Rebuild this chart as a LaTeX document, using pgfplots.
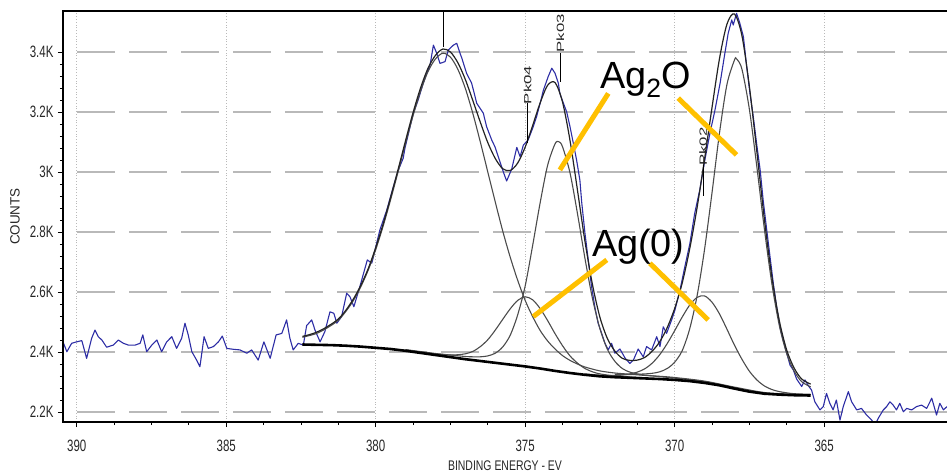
\documentclass[border=0pt]{standalone}
\usepackage{fontspec}
\setmainfont{Liberation Sans}
\newfontfamily\tickfont{Liberation Sans}[FakeStretch=0.7]
\newfontfamily\xlabfont{Liberation Sans}[FakeStretch=0.75]
\newfontfamily\pkfont{Liberation Sans}[FakeStretch=1.6]
\usepackage{pgfplots}
\pgfplotsset{compat=1.18}
\definecolor{datablue}{RGB}{45,45,165}
\definecolor{compgray}{RGB}{75,75,75}
\definecolor{envgray}{RGB}{35,35,35}
\definecolor{annot}{RGB}{255,192,0}
\definecolor{gridgray}{RGB}{185,185,185}
\begin{document}
\begin{tikzpicture}
\begin{axis}[
  scale only axis, width=884bp, height=411bp,
  x dir=reverse, xmin=360.89, xmax=390.46, ymin=2166.7, ymax=3536.7,
  axis line style={draw=none},
  xtick={365,370,375,380,385,390}, xticklabels={365,370,375,380,385,390},
  ytick={2200,2400,2600,2800,3000,3200,3400},
  yticklabels={2.2K,2.4K,2.6K,2.8K,3K,3.2K,3.4K},
  minor x tick num=3, minor y tick num=4,
  xtick pos=bottom, ytick pos=left,
  tick align=outside, major tick length=5bp, minor tick length=3bp,
  tick style={black, line width=0.8bp},
  tick label style={font=\tickfont\fontsize{16.5}{18}\selectfont, text=black!85},
  xticklabel style={yshift=-10bp},
  yticklabel style={xshift=-1bp},
  ymajorgrids, xmajorgrids,
  major y grid style={gridgray, line width=1.4bp, dash pattern=on 38bp off 14bp},
  major x grid style={gray!55, line width=0.8bp, dotted},
  xlabel={BINDING ENERGY - EV},
  xlabel style={at={(axis description cs:0.5,0)}, anchor=center, yshift=-44bp,
    font=\xlabfont\fontsize{14}{16}\selectfont, text=black!85},
  ylabel={COUNTS},
  ylabel style={at={(axis description cs:-0.0543,0.5)}, anchor=center,
    font=\fontsize{13.5}{15}\selectfont, text=black!85},
]
% raw data
\addplot[datablue, line width=1.1bp, line join=round] coordinates {
(390.46,2434) (390.33,2401) (390.17,2429) (390.00,2434) (389.83,2438) (389.67,2379)
(389.50,2446) (389.39,2473) (389.28,2451) (389.16,2440) (389.00,2416) (388.78,2423)
(388.61,2440) (388.44,2429) (388.27,2423) (388.05,2423) (387.88,2429) (387.79,2457)
(387.66,2401) (387.49,2423) (387.32,2440) (387.16,2401) (386.99,2434) (386.82,2451)
(386.66,2412) (386.49,2446) (386.38,2496) (386.27,2457) (386.15,2401) (385.99,2373)
(385.88,2351) (385.74,2451) (385.60,2412) (385.43,2418) (385.26,2434) (385.13,2453)
(384.98,2412) (384.76,2409) (384.54,2407) (384.31,2396) (384.15,2407) (383.93,2373)
(383.74,2434) (383.53,2379) (383.33,2457) (383.14,2462) (382.98,2507) (382.87,2446)
(382.76,2407) (382.59,2429) (382.42,2423) (382.31,2488) (382.14,2507) (382.03,2473)
(381.86,2434) (381.70,2468) (381.53,2534) (381.40,2529) (381.30,2496) (381.14,2518)
(380.97,2596) (380.86,2584) (380.73,2551) (380.53,2618) (380.28,2707) (380.13,2696)
(379.97,2762) (379.86,2807) (379.63,2873) (379.41,2951) (379.24,3007) (379.08,3046)
(379.02,3080) (378.85,3151) (378.74,3196) (378.58,3240) (378.41,3296) (378.29,3329)
(378.18,3357) (378.07,3423) (377.96,3396) (377.85,3362) (377.68,3368) (377.57,3407)
(377.40,3423) (377.29,3429) (377.18,3396) (377.12,3380) (376.96,3329) (376.79,3296)
(376.62,3229) (376.40,3196) (376.29,3151) (376.12,3107) (376.01,3084) (375.90,3051)
(375.73,3000) (375.62,2970) (375.45,3010) (375.28,3082) (375.17,3051) (375.06,3090)
(374.90,3107) (374.73,3151) (374.62,3184) (374.50,3229) (374.39,3273) (374.23,3318)
(374.11,3346) (374.00,3329) (373.89,3296) (373.84,3262) (373.72,3229) (373.61,3200)
(373.50,3151) (373.39,3096) (373.28,3040) (373.17,2973) (373.11,2900) (373.00,2796)
(372.89,2707) (372.78,2618) (372.67,2551) (372.56,2496) (372.44,2462) (372.33,2429)
(372.22,2407) (372.11,2429) (372.00,2396) (371.83,2410) (371.66,2380) (371.50,2362)
(371.38,2373) (371.22,2410) (371.05,2384) (370.94,2418) (370.77,2407) (370.60,2451)
(370.49,2418) (370.38,2484) (370.27,2462) (370.10,2507) (369.99,2540) (369.82,2607)
(369.66,2684) (369.49,2762) (369.33,2862) (369.16,2940) (368.99,3040) (368.82,3129)
(368.65,3207) (368.48,3296) (368.32,3396) (368.21,3462) (368.09,3507) (368.04,3490)
(367.93,3529) (367.82,3496) (367.70,3451) (367.59,3351) (367.48,3262) (367.37,3184)
(367.26,3096) (367.14,3007) (367.04,2907) (366.92,2807) (366.81,2718) (366.70,2629)
(366.59,2551) (366.48,2484) (366.37,2440) (366.25,2396) (366.14,2356) (366.03,2340)
(365.92,2310) (365.75,2285) (365.64,2307) (365.53,2288) (365.42,2273) (365.31,2234)
(365.14,2207) (365.03,2218) (364.92,2262) (364.81,2229) (364.70,2207) (364.59,2240)
(364.47,2173) (364.36,2218) (364.19,2268) (364.08,2234) (363.91,2207) (363.75,2212)
(363.58,2190) (363.41,2173) (363.30,2157) (363.19,2179) (363.02,2207) (362.91,2218)
(362.80,2234) (362.69,2223) (362.58,2207) (362.47,2229) (362.35,2201) (362.24,2212)
(362.07,2207) (361.91,2218) (361.74,2223) (361.57,2212) (361.40,2246) (361.24,2190)
(361.13,2229) (361.01,2207) (360.89,2218)
};
% component peaks (background + peak)
\addplot[compgray, line width=1.1bp, smooth] coordinates {
(382.45,2449) (382.25,2454) (382,2461) (381.75,2473) (381.5,2488) (381.25,2506)
(381,2535) (380.75,2571) (380.5,2617) (380.25,2673) (380,2741) (379.75,2820)
(379.5,2908) (379.25,3001) (379,3096) (378.75,3188) (378.5,3269) (378.25,3335)
(378,3377) (377.75,3396) (377.5,3383) (377.25,3342) (377,3278) (376.75,3195)
(376.5,3100) (376.25,3000) (376,2900) (375.75,2803) (375.5,2716) (375.25,2639)
(375,2572) (374.75,2518) (374.5,2472) (374.25,2437) (374,2410) (373.75,2388)
(373.5,2372) (373.25,2360) (373,2350) (372.5,2337) (372,2330) (371.5,2326)
(371,2322) (370.5,2319) (370,2315) (369,2303) (368,2283) (367,2265) (366,2259) (365.45,2258)
};
\addplot[compgray, line width=1.1bp, smooth] coordinates {
(379,2407) (378.5,2400) (378,2394) (377.5,2390) (377.25,2391) (377,2394) (376.75,2402)
(376.5,2418) (376.25,2441) (376,2473) (375.75,2509) (375.5,2544) (375.25,2572)
(375,2584) (374.75,2574) (374.5,2545) (374.25,2505) (374,2461) (373.75,2421)
(373.5,2387) (373.25,2363) (373,2345) (372.75,2334) (372.5,2327) (372,2320)
(371.5,2317) (371,2314)
};
\addplot[compgray, line width=1.1bp, smooth] coordinates {
(379,2408) (378,2395) (377.5,2390) (377,2385) (376.75,2384) (376.5,2384) (376.25,2387)
(376,2396) (375.75,2417) (375.5,2456) (375.25,2524) (375,2620) (374.75,2755)
(374.5,2897) (374.25,3022) (374,3094) (373.875,3101) (373.75,3084) (373.5,2997)
(373.25,2861) (373,2712) (372.75,2579) (372.5,2478) (372.25,2409) (372,2369)
(371.75,2345) (371.5,2333) (371.25,2327) (371,2323) (370.5,2318) (370,2313)
(369,2301) (368,2281)
};
\addplot[compgray, line width=1.1bp, smooth] coordinates {
(373,2327) (372.5,2323) (372,2322) (371.75,2323) (371.5,2327) (371.25,2333)
(371,2344) (370.75,2363) (370.5,2391) (370.25,2428) (370,2471) (369.75,2516)
(369.5,2556) (369.25,2582) (369,2587) (368.75,2566) (368.5,2527) (368.25,2476)
(368,2423) (367.75,2376) (367.5,2336) (367.25,2307) (367,2287) (366.75,2275)
(366.5,2268) (366.25,2264) (366,2261) (365.45,2259)
};
\addplot[compgray, line width=1.1bp, smooth] coordinates {
(372,2326) (371.5,2325) (371,2327) (370.75,2329) (370.5,2334) (370.25,2345)
(370,2366) (369.75,2404) (369.5,2476) (369.25,2587) (369,2742) (368.75,2931)
(368.5,3130) (368.25,3292) (368,3373) (367.93,3377) (367.75,3343) (367.5,3209)
(367.25,3017) (367,2811) (366.75,2629) (366.5,2489) (366.25,2394) (366,2336)
(365.75,2301) (365.45,2284)
};
% fitted envelope
\addplot[envgray, line width=1.2bp, smooth] coordinates {
(382.45,2452) (382.25,2457) (382,2465) (381.75,2477) (381.5,2492) (381.25,2510)
(381,2539) (380.75,2576) (380.5,2622) (380.25,2678) (380,2748) (379.75,2827)
(379.5,2916) (379.25,3009) (379,3105) (378.75,3198) (378.5,3280) (378.25,3346)
(378,3389) (377.75,3410) (377.5,3400) (377.25,3364) (377,3308) (376.75,3238)
(376.5,3166) (376.25,3098) (376,3045) (375.75,3011) (375.5,3005) (375.25,3030)
(375,3083) (374.75,3155) (374.5,3230) (374.25,3289) (374,3298) (373.75,3233)
(373.5,3105) (373.25,2939) (373,2769) (372.75,2625) (372.5,2516) (372.25,2445)
(372,2403) (371.75,2379) (371.5,2372) (371.25,2373) (371,2382) (370.75,2403)
(370.5,2434) (370.25,2481) (370,2545) (369.75,2629) (369.5,2742) (369.25,2881)
(369,3043) (368.75,3215) (368.5,3378) (368.25,3493) (368,3527) (367.75,3455)
(367.5,3285) (367.25,3068) (367,2844) (366.75,2652) (366.5,2505) (366.25,2406)
(366,2346) (365.75,2310) (365.45,2293)
};
% Shirley background
\addplot[black, line width=2.6bp] coordinates {
(382.45,2425) (382,2424) (381.5,2423) (381,2421) (380.5,2418) (380,2414) (379.5,2410)
(379,2404) (378.5,2397) (378,2390) (377.5,2383) (377,2376) (376.5,2370) (376,2364)
(375.5,2358) (375,2352) (374.5,2345) (374,2337) (373.5,2330) (373,2324) (372.5,2319)
(372,2316) (371.5,2314) (371,2312) (370.5,2310) (370,2307) (369.5,2303) (369,2297)
(368.5,2289) (368,2278) (367.5,2268) (367,2261) (366.5,2258) (366,2256) (365.45,2255)
};
% peak markers
\draw[black, line width=0.8bp] (axis cs:377.72,3536.7) -- (axis cs:377.72,3417);
\draw[black, line width=0.8bp] (axis cs:373.82,3397) -- (axis cs:373.82,3300);
\draw[black, line width=0.8bp] (axis cs:374.92,3230) -- (axis cs:374.92,3097);
\draw[black, line width=0.8bp] (axis cs:369.05,3023) -- (axis cs:369.05,2920);
\node[rotate=90, font=\pkfont\fontsize{10.5}{12}\selectfont, text=black!85, inner sep=0pt] at (axis cs:373.82,3463) {Pk03};
\node[rotate=90, font=\pkfont\fontsize{10.5}{12}\selectfont, text=black!85, inner sep=0pt] at (axis cs:374.92,3290) {Pk04};
\node[rotate=90, font=\pkfont\fontsize{10.5}{12}\selectfont, text=black!85, inner sep=0pt] at (axis cs:369.05,3085) {Pk02};
% annotations
\draw[annot, line width=5bp] (axis cs:372.22,3262) -- (axis cs:373.84,3007);
\draw[annot, line width=5bp] (axis cs:369.88,3246) -- (axis cs:367.93,3057);
\draw[annot, line width=5bp] (axis cs:372.27,2707) -- (axis cs:374.73,2518);
\draw[annot, line width=5bp] (axis cs:370.83,2696) -- (axis cs:368.88,2507);
\node[anchor=base west, inner sep=0pt, font=\fontsize{38}{40}\selectfont] at (axis cs:372.50,3280) {Ag\textsubscript{2}O};
\node[anchor=base west, inner sep=0pt, font=\fontsize{38}{40}\selectfont] at (axis cs:372.77,2720) {Ag(0)};
\end{axis}
\draw[black, line width=1.2bp] (current axis.north west) -- (current axis.north east);
\draw[black, line width=2.6bp] ([yshift=0.6bp]current axis.north west) -- (current axis.south west) -- (current axis.south east);
\pgfresetboundingbox
\path ([xshift=-63bp,yshift=-54bp]current axis.south west) rectangle ([yshift=11bp]current axis.north east);
\end{tikzpicture}
\end{document}
